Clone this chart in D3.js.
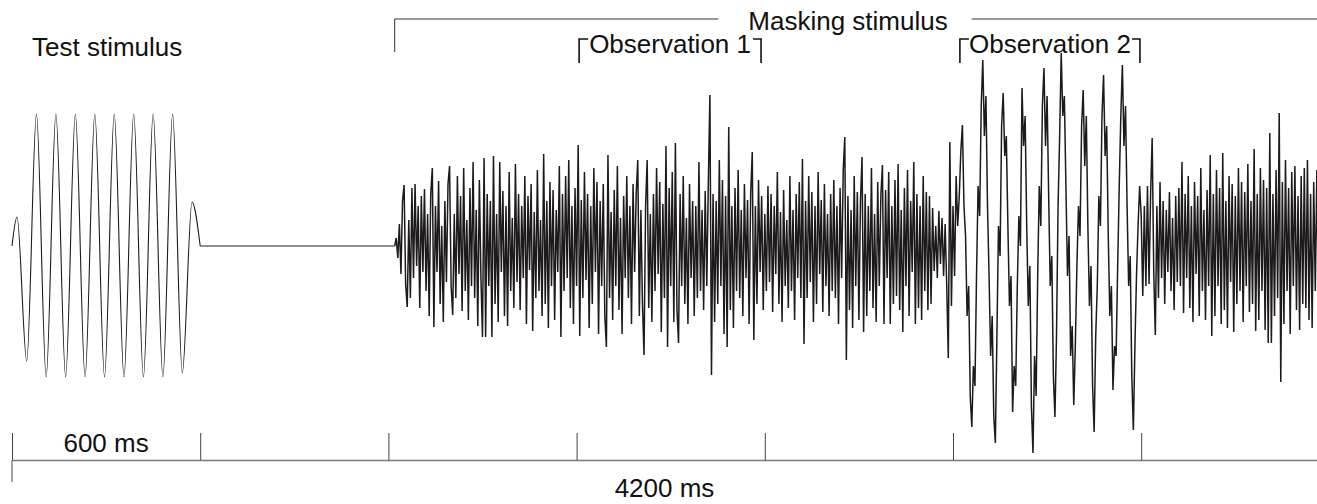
<!DOCTYPE html>
<html>
<head>
<meta charset="utf-8">
<script src="https://cdn.jsdelivr.net/npm/d3@7"></script>
<style>
  body { margin: 0; background: #fff; }
  text { font-family: "Liberation Sans", Arial, sans-serif; font-size: 26px; fill: #111; }
</style>
</head>
<body>
<div id="chart"></div>
<script>
// Test stimulus + masker waveform, drawn with D3

// --- data (time in ms, amplitude in arbitrary units, + is up) ---

// Test stimulus: successive peaks/troughs of the tone burst
const TEST_PEAKS = [29, -115, 132, -131, 132, -131, 132, -131, 132, -131,
                    132, -131, 132, -131, 132, -131, 132, -127, 44];
const TEST_FIRST_PEAK = 16;   // ms
const TEST_HALF_PERIOD = 31;  // ms
const TEST_END = 600;         // ms

// Masker samples, one every 5 ms starting at 1220 ms (one row = 100 ms)
const MASKER_START = 1220;
const MASKER_STEP = 5;
const MASKER = [
  0, 8, -12, 22, -28, 45, 61, -38, -61, 26, -52, 58, -32, 62, -20, 40, -62, 50, -26, 57,
  -45, 32, -70, 52, 78, -81, 40, -26, 65, -58, 20, -76, 45, -36, 62, 80, -40, -69, 32, -52,
  70, -28, 50, -65, 78, -45, 26, -74, 58, -40, 84, -52, 36, -80, 66, -32, -91, 88, -91, 52,
  -40, 45, -91, 90, -58, 32, -76, 84, -26, 55, -70, 40, -80, 74, -45, 28, -62, 82, -36, 52,
  -64, 40, -32, 70, -78, 50, -24, 62, -85, 34, -52, 76, -45, 26, -70, 92, -58, 45, -82, 64,
  -40, 56, -74, 36, -26, 80, -91, 52, -45, 70, -32, 86, -62, 40, -78, 58, -40, 101, -90, 46,
  -52, 74, -34, 52, -82, 40, -58, 78, -26, 64, -88, 45, -40, 62, -70, -101, 91, -52, 34, -74,
  56, -40, 80, -64, 28, -88, 50, -32, 70, -52, 40, -78, 62, -26, 52, 86, -70, 36, -58, -109,
  40, 86, -62, 32, -76, 52, -45, 78, -28, 64, -86, 42, -52, 100, -101, 58, -40, 74, -76, 103,
  -64, -97, 52, -40, 70, -58, 28, -78, 62, -32, 45, -70, 40, -52, 84, -45, 36, -64, 55, -40,
  64, 151, -129, 52, -76, 45, -58, 86, -40, 66, -88, 50, -101, 119, -64, 40, -82, 58, -45, 76,
  -52, 36, -70, 62, -32, 46, -78, 52, 94, -94, 40, -58, 66, -26, 50, -64, 32, -45, 60, -36,
  52, -66, 40, -28, 74, -58, 34, -76, 56, -40, 26, -62, 70, -45, 36, -74, 52, -32, 64, -52,
  87, -98, 45, -52, 70, -36, 54, -76, 40, -58, 74, -28, 46, -66, 62, -40, 32, -70, 52, -45,
  66, -52, 40, -78, 58, -32, 76, 109, -114, 50, -64, 36, -82, 70, -40, 54, -74, 45, 89, -86,
  52, -70, 40, -45, 78, -62, 32, -76, 64, -40, 50, 81, -78, 56, -32, 74, -78, 40, -58, 66,
  -50, 82, -64, 36, -86, 58, -40, 76, -70, 45, -26, 84, -78, 52, -62, 40, -74, 70, -45, 54,
  -64, 50, -58, 38, -25, 20, -32, 35, -18, 28, -30, 22, -40, -112, 104, -60, 40, -30, 70, 20,
  50, 95, 121, 40, 10, -70, -40, -150, -181, -120, -140, -30, 60, 30, 140, 186, 110, 150, 40, -30,
  -110, -70, -170, -197, -90, 20, -10, 120, 153, 90, 110, 20, -60, -30, -166, -120, -140, -40, 30, 0,
  158, 100, 130, 20, -60, -20, -160, -207, -110, -150, -30, 60, 20, 140, 178, 100, 150, 50, -40, -10,
  -130, -171, -90, 40, 110, 193, 130, 150, 60, -30, 10, -110, -80, -159, -100, -20, 40, 10, 120, 156,
  80, 130, 20, -60, -20, -140, -186, -90, -40, 50, 20, 130, 171, 90, 120, 10, -70, -40, -144, -100,
  -110, -20, 60, 130, 181, 100, 140, 40, -40, -10, -130, -184, -100, -30, 20, 60, 30, -50, 40, -40,
  60, -38, 52, 108, -26, -89, 40, -52, 64, -32, 45, -58, 36, -26, 54, -45, 28, -64, 50, -36,
  58, -40, 84, -67, 52, -32, 70, -62, 40, -76, 64, -28, 50, -70, 78, -45, 36, -74, 56, -40,
  91, -90, 52, -70, 76, -40, 58, -78, 93, -64, 45, -82, 70, -36, 62, -86, 50, -58, 78, -45,
  64, -76, 54, -40, 82, -66, 45, -58, 97, -85, 52, -74, 78, -45, 66, -84, 58, -97, 113, -97,
  52, -70, 76, -52, 133, -136, 64, -78, 86, -45, 58, -88, 74, -40, 80, -64, 50, -84, 70, -58,
  78, -62, 86, -74, 52, -82, 64, -45, 76, -66
];

// Time ticks and observation windows (ms)
const TICK_MS = [0, 600, 1200, 1800, 2400, 3000, 3600];
const TOTAL_MS = 4200;
const OBS_NAMES = ["Observation 1", "Observation 2"];
const OBS_START = [1808, 3022];
const OBS_END = [2388, 3596];

// --- frame ---
const FRAME_WIDTH = 1317;
const FRAME_HEIGHT = 504;
const AXIS_Y = 460;
const WAVE_COLOR = "#1e1a1b";

const FRAME = d3.select("#chart")
                .append("svg")
                  .attr("width", FRAME_WIDTH)
                  .attr("height", FRAME_HEIGHT)
                  .style("display", "block");

// 600 ms spans 188.2 px
const X_SCALE = d3.scaleLinear()
                  .domain([0, TOTAL_MS])
                  .range([12, 12 + 7 * 188.2]);

const Y_SCALE = d3.scaleLinear()
                  .domain([-200, 200])
                  .range([446, 46]);

// Build point lists
const testData = [{t: 0, v: 0}];
TEST_PEAKS.forEach((v, i) => {
  testData.push({t: TEST_FIRST_PEAK + i * TEST_HALF_PERIOD, v: v});
});
testData.push({t: TEST_END, v: 0});

const silence = [{t: TEST_END, v: 0}, {t: MASKER_START, v: 0}];

const maskerData = MASKER.map((v, i) => { return {t: MASKER_START + i * MASKER_STEP, v: v}; });

// --- labels and brackets ---
FRAME.append("text")
     .attr("x", 32)
     .attr("y", 56)
     .text("Test stimulus");

// Masking stimulus bracket
const maskX0 = X_SCALE(MASKER_START);
const maskLabel = FRAME.append("text")
     .attr("x", 848)
     .attr("y", 30)
     .attr("text-anchor", "middle")
     .text("Masking stimulus");
const maskLen = maskLabel.node().getComputedTextLength();

FRAME.append("path")
     .attr("d", "M" + maskX0 + ",52V19H" + (848 - maskLen / 2 - 30))
     .attr("fill", "none")
     .attr("stroke", "#333")
     .attr("stroke-width", 1);
FRAME.append("line")
     .attr("x1", 848 + maskLen / 2 + 24).attr("x2", FRAME_WIDTH)
     .attr("y1", 19).attr("y2", 19)
     .attr("stroke", "#333")
     .attr("stroke-width", 1);

// Observation brackets
OBS_NAMES.forEach((name, i) => {
  const x0 = X_SCALE(OBS_START[i]);
  const x1 = X_SCALE(OBS_END[i]);
  FRAME.append("text")
       .attr("x", (x0 + x1) / 2)
       .attr("y", 53)
       .attr("text-anchor", "middle")
       .text(name);
  FRAME.append("path")
       .attr("d", "M" + (x0 + 9) + ",39H" + x0 + "V63")
       .attr("fill", "none")
       .attr("stroke", "#111")
       .attr("stroke-width", 1.6);
  FRAME.append("path")
       .attr("d", "M" + (x1 - 8) + ",39H" + x1 + "V63")
       .attr("fill", "none")
       .attr("stroke", "#111")
       .attr("stroke-width", 1.6);
});

// --- waveform ---
const smoothLine = d3.line()
                     .x((d) => { return X_SCALE(d.t); })
                     .y((d) => { return Y_SCALE(d.v); })
                     .curve(d3.curveMonotoneX);

const sharpLine = d3.line()
                    .x((d) => { return X_SCALE(d.t); })
                    .y((d) => { return Y_SCALE(d.v); });

FRAME.append("path")
     .datum(testData)
     .attr("d", smoothLine)
     .attr("fill", "none")
     .attr("stroke", WAVE_COLOR)
     .attr("stroke-width", 1.1);

FRAME.append("path")
     .datum(silence)
     .attr("d", sharpLine)
     .attr("fill", "none")
     .attr("stroke", WAVE_COLOR)
     .attr("stroke-width", 1.1);

FRAME.append("path")
     .datum(maskerData)
     .attr("d", sharpLine)
     .attr("fill", "none")
     .attr("stroke", WAVE_COLOR)
     .attr("stroke-width", 1.5);

// --- time axis ---
const axis = FRAME.append("g")
     .attr("transform", "translate(0," + AXIS_Y + ")")
     .call(d3.axisTop(X_SCALE)
             .tickValues(TICK_MS)
             .tickSize(27)
             .tickSizeOuter(0)
             .tickFormat(""));
axis.select(".domain")
    .attr("stroke", "#7a7a7a")
    .attr("stroke-width", 1.6);
axis.selectAll(".tick line")
    .attr("stroke", "#444");

// first tick also drops below the line
FRAME.append("line")
     .attr("x1", X_SCALE(0)).attr("x2", X_SCALE(0))
     .attr("y1", AXIS_Y).attr("y2", AXIS_Y + 22)
     .attr("stroke", "#444");

FRAME.append("text")
     .attr("x", (X_SCALE(0) + X_SCALE(600)) / 2)
     .attr("y", 452)
     .attr("text-anchor", "middle")
     .text("600 ms");

FRAME.append("text")
     .attr("x", (X_SCALE(0) + FRAME_WIDTH) / 2)
     .attr("y", 497)
     .attr("text-anchor", "middle")
     .text("4200 ms");
</script>
</body>
</html>
